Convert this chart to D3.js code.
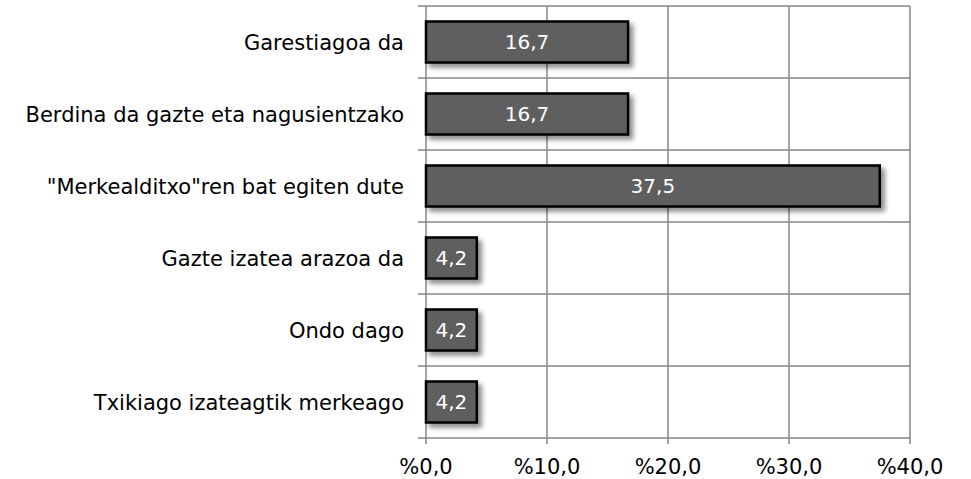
<!DOCTYPE html>
<html>
<head>
<meta charset="utf-8">
<script src="https://cdn.jsdelivr.net/npm/d3@7"></script>
<style>
  body { margin: 0; background: #fff; }
  svg { display: block; font-family: Verdana, "DejaVu Sans", sans-serif; }
</style>
</head>
<body>
<div id="chart"></div>
<script>
const categories = [
  "Garestiagoa da",
  "Berdina da gazte eta nagusientzako",
  "\"Merkealditxo\"ren bat egiten dute",
  "Gazte izatea arazoa da",
  "Ondo dago",
  "Txikiago izateagtik merkeago"
];
const values = [16.7, 16.7, 37.5, 4.2, 4.2, 4.2];
const xTicks = [0, 10, 20, 30, 40];

const width = 971, height = 479;
const margin = { top: 6, right: 61, bottom: 41, left: 426 };

const svg = d3.select("#chart").append("svg")
  .attr("width", width)
  .attr("height", height);

const defs = svg.append("defs");
const filter = defs.append("filter").attr("id", "shadow")
  .attr("x", "-10%").attr("y", "-20%").attr("width", "130%").attr("height", "160%");
filter.append("feGaussianBlur").attr("in", "SourceAlpha").attr("stdDeviation", 2.5).attr("result", "blur");
filter.append("feOffset").attr("in", "blur").attr("dx", 4).attr("dy", 4).attr("result", "off");
filter.append("feComponentTransfer").attr("in", "off").attr("result", "soft")
  .append("feFuncA").attr("type", "linear").attr("slope", 0.45);
const merge = filter.append("feMerge");
merge.append("feMergeNode").attr("in", "soft");
merge.append("feMergeNode").attr("in", "SourceGraphic");

const x = d3.scaleLinear().domain([0, 40]).range([margin.left, width - margin.right]);
const y = d3.scaleBand().domain(categories).range([margin.top, height - margin.bottom]).paddingInner(0.43).paddingOuter(0.215);
const band = d3.scaleBand().domain(categories).range([margin.top, height - margin.bottom]);

const gridColor = "#868686";

// vertical gridlines
svg.append("g").selectAll("line").data(xTicks.slice(1)).join("line")
  .attr("x1", d => x(d)).attr("x2", d => x(d))
  .attr("y1", margin.top).attr("y2", height - margin.bottom + 6)
  .attr("stroke", gridColor).attr("stroke-width", 1.5);

// horizontal gridlines at category boundaries
const bounds = categories.map(c => band(c)).concat([height - margin.bottom]);
svg.append("g").selectAll("line").data(bounds).join("line")
  .attr("x1", margin.left - 8).attr("x2", x(40))
  .attr("y1", d => d).attr("y2", d => d)
  .attr("stroke", gridColor).attr("stroke-width", 1.5);

// left axis
svg.append("line")
  .attr("x1", x(0)).attr("x2", x(0))
  .attr("y1", margin.top).attr("y2", height - margin.bottom + 6)
  .attr("stroke", gridColor).attr("stroke-width", 1.5);

// bars
svg.append("g").selectAll("rect").data(values).join("rect")
  .attr("x", x(0))
  .attr("y", (d, i) => y(categories[i]))
  .attr("width", d => x(d) - x(0))
  .attr("height", y.bandwidth())
  .attr("fill", "#5f5f5f")
  .attr("stroke", "#000")
  .attr("stroke-width", 2.5)
  .attr("filter", "url(#shadow)");

// value labels
svg.append("g").selectAll("text").data(values).join("text")
  .attr("x", d => (x(0) + x(d)) / 2)
  .attr("y", (d, i) => y(categories[i]) + y.bandwidth() / 2)
  .attr("dy", "0.36em")
  .attr("text-anchor", "middle")
  .attr("fill", "#fff")
  .attr("font-size", 20)
  .text(d => d.toFixed(1).replace(".", ","));

// category labels
svg.append("g").selectAll("text").data(categories).join("text")
  .attr("x", margin.left - 22)
  .attr("y", d => band(d) + band.bandwidth() / 2)
  .attr("dy", "0.36em")
  .attr("text-anchor", "end")
  .attr("fill", "#000")
  .attr("font-size", 21)
  .text(d => d);

// x tick labels
svg.append("g").selectAll("text").data(xTicks).join("text")
  .attr("x", d => x(d))
  .attr("y", height - 5)
  .attr("text-anchor", "middle")
  .attr("fill", "#000")
  .attr("font-size", 21)
  .text(d => "%" + d.toFixed(1).replace(".", ","));
</script>
</body>
</html>
